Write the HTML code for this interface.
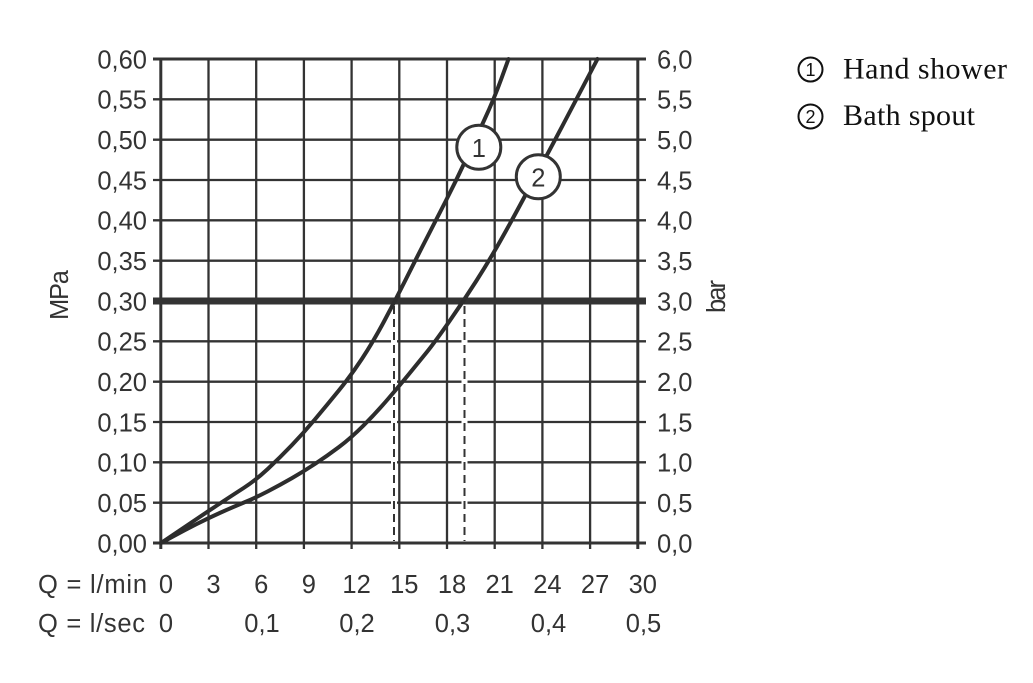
<!DOCTYPE html>
<html>
<head>
<meta charset="utf-8">
<style>
  html, body { margin: 0; padding: 0; background: #ffffff; }
  svg { display: block; }
  .t { font-family: "Liberation Sans", "DejaVu Sans", sans-serif; font-size: 25.5px; fill: #333; }
  .lg { font-family: "Liberation Serif", serif; font-size: 30px; fill: #111; }
</style>
</head>
<body>
<svg width="1033" height="683" viewBox="0 0 1033 683" xmlns="http://www.w3.org/2000/svg">
  <rect width="1033" height="683" fill="#fff"/>

  <!-- vertical grid lines -->
  <g stroke="#333" stroke-width="2.3">
    <line x1="208.5" y1="59" x2="208.5" y2="549"/>
    <line x1="256.2" y1="59" x2="256.2" y2="549"/>
    <line x1="303.9" y1="59" x2="303.9" y2="549"/>
    <line x1="351.6" y1="59" x2="351.6" y2="549"/>
    <line x1="399.3" y1="59" x2="399.3" y2="549"/>
    <line x1="447.0" y1="59" x2="447.0" y2="549"/>
    <line x1="494.7" y1="59" x2="494.7" y2="549"/>
    <line x1="542.4" y1="59" x2="542.4" y2="549"/>
    <line x1="590.1" y1="59" x2="590.1" y2="549"/>
  </g>
  <!-- horizontal grid lines (with ticks) -->
  <g stroke="#333" stroke-width="2.3">
    <line x1="153" y1="502.67" x2="646" y2="502.67"/>
    <line x1="153" y1="462.33" x2="646" y2="462.33"/>
    <line x1="153" y1="422" x2="646" y2="422"/>
    <line x1="153" y1="381.67" x2="646" y2="381.67"/>
    <line x1="153" y1="341.33" x2="646" y2="341.33"/>
    <line x1="153" y1="260.67" x2="646" y2="260.67"/>
    <line x1="153" y1="220.33" x2="646" y2="220.33"/>
    <line x1="153" y1="180" x2="646" y2="180"/>
    <line x1="153" y1="139.67" x2="646" y2="139.67"/>
    <line x1="153" y1="99.33" x2="646" y2="99.33"/>
  </g>
  <!-- frame -->
  <g stroke="#333" stroke-width="3">
    <line x1="153" y1="59" x2="646" y2="59"/>
    <line x1="153" y1="543" x2="646" y2="543"/>
    <line x1="160.8" y1="57.5" x2="160.8" y2="549"/>
    <line x1="637.8" y1="57.5" x2="637.8" y2="549"/>
  </g>
  <!-- thick 0.30 line -->
  <line x1="153" y1="301" x2="646" y2="301" stroke="#333" stroke-width="7"/>

  <!-- dashed drop lines -->
  <g>
    <line x1="394" y1="305" x2="394" y2="541" stroke="#fff" stroke-width="6"/>
    <line x1="464.5" y1="305" x2="464.5" y2="541" stroke="#fff" stroke-width="6"/>
    <line x1="394" y1="306" x2="394" y2="541" stroke="#333" stroke-width="2" stroke-dasharray="8,5"/>
    <line x1="464.5" y1="306" x2="464.5" y2="541" stroke="#333" stroke-width="2" stroke-dasharray="8,5"/>
  </g>

  <!-- curves -->
  <g fill="none" stroke="#2d2d2d" stroke-width="4" stroke-linejoin="round" stroke-linecap="round">
    <path d="M161,543 L172.5,535.25 Q184,527.5 196.25,519.25 Q208.5,511 220.25,503.25 Q232,495.5 244,487.75 Q256,480 268,468.75 Q280,457.5 291.75,445.25 Q303.5,433 315.25,419 Q327,405 339,390.25 Q351,375.5 362,358.75 Q373,342 384,321.5 Q395,301 405,281 Q415,261 425,241.5 Q435,222 445.5,201.5 Q456,181 465.5,160.5 Q475,140 484.5,119.5 Q494,99 501.25,79 L508.5,59"/>
    <path d="M161,543 L172.5,536.75 Q184,530.5 196.25,524.25 Q208.5,518 220.25,512.75 Q232,507.5 244,502.5 Q256,497.5 268,491.25 Q280,485 291.75,478.25 Q303.5,471.5 315.25,463.75 Q327,456 339,447 Q351,438 363.5,425.5 Q376,413 388,399 Q400,385 409,374 Q418,363 426.5,352.5 Q435,342 449.25,321.5 Q463.5,301 476.25,281 Q489,261 500,241.5 Q511,222 522,201.5 Q533,181 544,160.5 Q555,140 565.75,119.5 Q576.5,99 587,79 L597.5,59"/>
  </g>

  <!-- curve labels -->
  <circle cx="478.8" cy="147.2" r="22" fill="#fff" stroke="#333" stroke-width="3"/>
  <text class="t" x="478.8" y="157" text-anchor="middle" font-size="27">1</text>
  <circle cx="538.3" cy="176.7" r="22" fill="#fff" stroke="#333" stroke-width="3"/>
  <text class="t" x="538.3" y="186.5" text-anchor="middle" font-size="27">2</text>

  <!-- left axis labels -->
  <g class="t" text-anchor="end">
    <text x="147" y="68.3">0,60</text>
    <text x="147" y="108.6">0,55</text>
    <text x="147" y="149">0,50</text>
    <text x="147" y="189.3">0,45</text>
    <text x="147" y="229.6">0,40</text>
    <text x="147" y="270">0,35</text>
    <text x="147" y="310.3">0,30</text>
    <text x="147" y="350.6">0,25</text>
    <text x="147" y="391">0,20</text>
    <text x="147" y="431.3">0,15</text>
    <text x="147" y="471.6">0,10</text>
    <text x="147" y="512">0,05</text>
    <text x="147" y="552.3">0,00</text>
  </g>
  <!-- right axis labels -->
  <g class="t" text-anchor="start">
    <text x="657" y="68.3">6,0</text>
    <text x="657" y="108.6">5,5</text>
    <text x="657" y="149">5,0</text>
    <text x="657" y="189.3">4,5</text>
    <text x="657" y="229.6">4,0</text>
    <text x="657" y="270">3,5</text>
    <text x="657" y="310.3">3,0</text>
    <text x="657" y="350.6">2,5</text>
    <text x="657" y="391">2,0</text>
    <text x="657" y="431.3">1,5</text>
    <text x="657" y="471.6">1,0</text>
    <text x="657" y="512">0,5</text>
    <text x="657" y="552.3">0,0</text>
  </g>

  <!-- axis titles -->
  <text class="t" transform="translate(68,320) rotate(-90)" textLength="50">MPa</text>
  <text class="t" transform="translate(725,313) rotate(-90)" textLength="33">bar</text>

  <!-- bottom labels: l/min -->
  <g class="t" text-anchor="middle">
    <text x="38" y="593" text-anchor="start" textLength="109">Q = l/min</text>
    <text x="166" y="593">0</text>
    <text x="213.5" y="593">3</text>
    <text x="261.2" y="593">6</text>
    <text x="308.9" y="593">9</text>
    <text x="356.6" y="593">12</text>
    <text x="404.3" y="593">15</text>
    <text x="452" y="593">18</text>
    <text x="499.7" y="593">21</text>
    <text x="547.4" y="593">24</text>
    <text x="595.1" y="593">27</text>
    <text x="642.8" y="593">30</text>
  </g>
  <!-- bottom labels: l/sec -->
  <g class="t" text-anchor="middle">
    <text x="38" y="632" text-anchor="start" textLength="107">Q = l/sec</text>
    <text x="166" y="632">0</text>
    <text x="262" y="632">0,1</text>
    <text x="357" y="632">0,2</text>
    <text x="452.5" y="632">0,3</text>
    <text x="548.5" y="632">0,4</text>
    <text x="643.5" y="632">0,5</text>
  </g>

  <!-- legend -->
  <circle cx="810.5" cy="69.5" r="12" fill="none" stroke="#111" stroke-width="2"/>
  <text x="810.5" y="76" text-anchor="middle" font-family="Liberation Sans, sans-serif" font-size="18" fill="#111">1</text>
  <text class="lg" x="843" y="78.3" textLength="164">Hand shower</text>
  <circle cx="810.5" cy="116.5" r="12" fill="none" stroke="#111" stroke-width="2"/>
  <text x="810.5" y="123" text-anchor="middle" font-family="Liberation Sans, sans-serif" font-size="18" fill="#111">2</text>
  <text class="lg" x="843" y="125" textLength="132">Bath spout</text>
</svg>
</body>
</html>
